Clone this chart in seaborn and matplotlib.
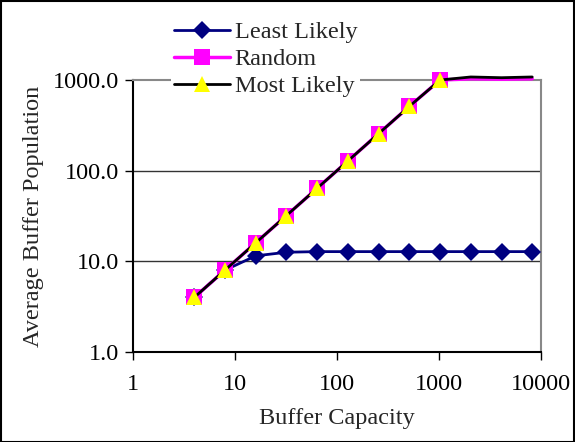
import numpy as np
import pandas as pd
import seaborn as sns
from matplotlib import pyplot as plt
from matplotlib.patches import Rectangle
from matplotlib.ticker import FixedLocator, NullLocator, FixedFormatter

capacity = [4, 8, 16, 32, 64, 128, 256, 512, 1024, 2048, 4096, 8192]
least_likely = [4.0, 8.0, 11.5, 12.6, 12.8, 12.8, 12.8, 12.8, 12.8, 12.8, 12.8, 12.8]
random_pop = [4.0, 8.0, 16.0, 32.0, 64.0, 128.0, 256.0, 512.0, 1000.0, 1030.0, 1020.0, 1030.0]
most_likely = [4.0, 8.0, 16.0, 32.0, 64.0, 128.0, 256.0, 512.0, 1000.0, 1080.0, 1060.0, 1080.0]

x_ticks = [1, 10, 100, 1000, 10000]
x_labels = ["1", "10", "100", "1000", "10000"]
y_ticks = [1, 10, 100, 1000]
y_labels = ["1.0", "10.0", "100.0", "1000.0"]

FS = 17.5

sns.set_theme(style="white")
plt.rcParams['font.family'] = ['Liberation Serif', 'DejaVu Serif']
plt.rcParams['font.size'] = FS

fig = plt.figure(figsize=(5.75, 4.42), dpi=100)
ax = fig.add_axes([0.231, 0.2036, 0.71, 0.6154])

df = pd.DataFrame({"capacity": capacity, "Least Likely": least_likely,
                   "Random": random_pop, "Most Likely": most_likely})

sns.lineplot(data=df, x="capacity", y="Least Likely", ax=ax, color="#000080",
             marker="D", markersize=9, markeredgewidth=0, linewidth=2,
             label="Least Likely", clip_on=False, zorder=3)
sns.lineplot(data=df, x="capacity", y="Random", ax=ax, color="#FF00FF",
             marker="s", markersize=11, markeredgewidth=0, linewidth=2.5,
             markevery=slice(0, 9), label="Random", clip_on=False, zorder=4)
sns.lineplot(data=df, x="capacity", y="Most Likely", ax=ax, color="black",
             marker="^", markersize=12, markeredgewidth=0, markerfacecolor="#FFFF00",
             linewidth=2, markevery=slice(0, 9), label="Most Likely",
             clip_on=False, zorder=5)

ax.set_xscale("log")
ax.set_yscale("log")
ax.set_xlim(1, 10000)
ax.set_ylim(1, 1000)

ax.xaxis.set_major_locator(FixedLocator(x_ticks))
ax.xaxis.set_major_formatter(FixedFormatter(x_labels))
ax.xaxis.set_minor_locator(NullLocator())
ax.yaxis.set_major_locator(FixedLocator(y_ticks))
ax.yaxis.set_major_formatter(FixedFormatter(y_labels))
ax.yaxis.set_minor_locator(NullLocator())

ax.grid(False)
for yv in y_ticks[1:3]:
    ax.axhline(yv, color="#333333", linewidth=1, zorder=1)

ax.tick_params(axis="both", which="major", direction="out", length=6, width=1,
               colors="black", labelsize=FS, bottom=True, left=True, pad=4)
ax.tick_params(axis="x", pad=10)

ax.spines["left"].set_color("black")
ax.spines["bottom"].set_color("black")
ax.spines["top"].set_color("#888888")
ax.spines["right"].set_color("#888888")
for s in ax.spines.values():
    s.set_linewidth(1.5)

ax.set_xlabel("Buffer Capacity", fontsize=FS, labelpad=9)
ax.set_ylabel("Average Buffer Population", fontsize=FS, labelpad=6)

ax.get_legend().remove()
handles, labels = ax.get_legend_handles_labels()
leg = fig.legend(handles, labels, loc="upper left", bbox_to_anchor=(0.298, 0.957),
                 frameon=True, facecolor="white", edgecolor="none", framealpha=1,
                 fontsize=FS, handlelength=2.3, handletextpad=0.2,
                 labelspacing=0.2, borderpad=0.1, borderaxespad=0, fancybox=False)
leg.set_zorder(10)

fig.add_artist(Rectangle((0.001, 0.001), 0.997, 0.997, transform=fig.transFigure,
                         fill=False, edgecolor="black", linewidth=1.5))

fig.savefig("out.png", dpi=100)
